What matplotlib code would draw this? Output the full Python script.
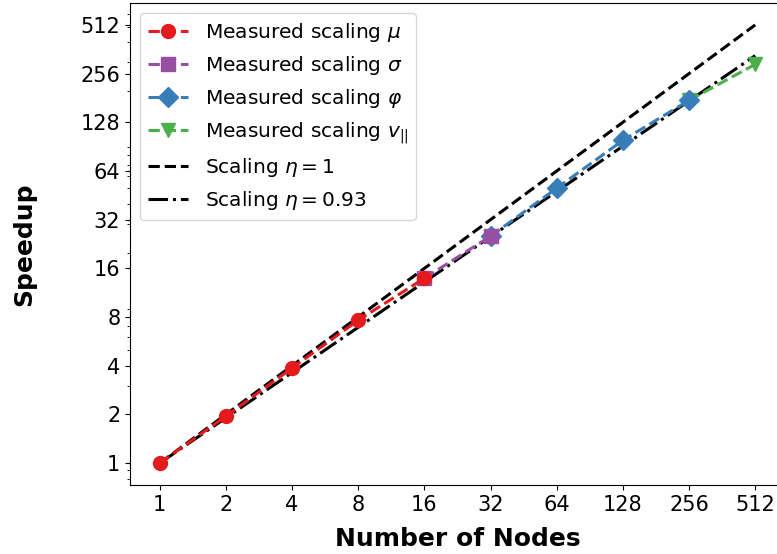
import numpy as np
import matplotlib
matplotlib.use("Agg")
import matplotlib.pyplot as plt
from matplotlib.ticker import NullFormatter

# node counts and measured speedups per field
nodes_mu = [1, 2, 4, 8, 16]
speedup_mu = [1.0, 1.95, 3.87, 7.65, 13.9]
nodes_sigma = [16, 32]
speedup_sigma = [13.9, 25.3]
nodes_phi = [32, 64, 128, 256]
speedup_phi = [25.3, 50.1, 99.0, 175.0]
nodes_v = [256, 512]
speedup_v = [175.0, 292.0]

all_nodes = [1, 2, 4, 8, 16, 32, 64, 128, 256, 512]
eta = 0.93
ytick_vals = [1, 2, 4, 8, 16, 32, 64, 128, 256, 512]

colors = {'mu': '#e41a1c', 'sigma': '#984ea3', 'phi': '#377eb8', 'v': '#4daf4a'}

fig = plt.figure(figsize=(7.77, 5.54), dpi=100)
ax = fig.add_axes([130 / 777, 69 / 554, 655 / 777, 482 / 554])

n = np.array(all_nodes, dtype=float)
l_ideal, = ax.plot(n, n, 'k--', lw=2.2, label=r'Scaling $\eta = 1$')
l_eta, = ax.plot(n, n ** eta, 'k-.', lw=2.2, label=r'Scaling $\eta = %.2f$' % eta)

kw = dict(ls='--', lw=2.2, ms=10)
l_v, = ax.plot(nodes_v, speedup_v, marker='v', color=colors['v'],
               label=r'Measured scaling $v_{||}$', **kw)
l_phi, = ax.plot(nodes_phi, speedup_phi, marker='D', color=colors['phi'],
                 label=r'Measured scaling $\varphi$', **kw)
l_sigma, = ax.plot(nodes_sigma, speedup_sigma, marker='s', color=colors['sigma'],
                   label=r'Measured scaling $\sigma$', **kw)
l_mu, = ax.plot(nodes_mu, speedup_mu, marker='o', color=colors['mu'],
                label=r'Measured scaling $\mu$', **kw)

ax.set_xscale('log', base=2)
ax.set_yscale('log')
ax.set_xticks(all_nodes)
ax.set_xticklabels([str(v) for v in all_nodes])
ax.set_yticks(ytick_vals)
ax.set_yticklabels([str(v) for v in ytick_vals])
ax.yaxis.set_minor_formatter(NullFormatter())
ax.tick_params(labelsize=15)

ax.set_xlabel('Number of Nodes', fontsize=18, fontweight='bold', labelpad=9)
ax.set_ylabel('Speedup', fontsize=18, fontweight='bold', labelpad=32)

ax.legend(handles=[l_mu, l_sigma, l_phi, l_v, l_ideal, l_eta],
          loc='upper left', fontsize=14.5)

fig.savefig('out.png', dpi=100)
